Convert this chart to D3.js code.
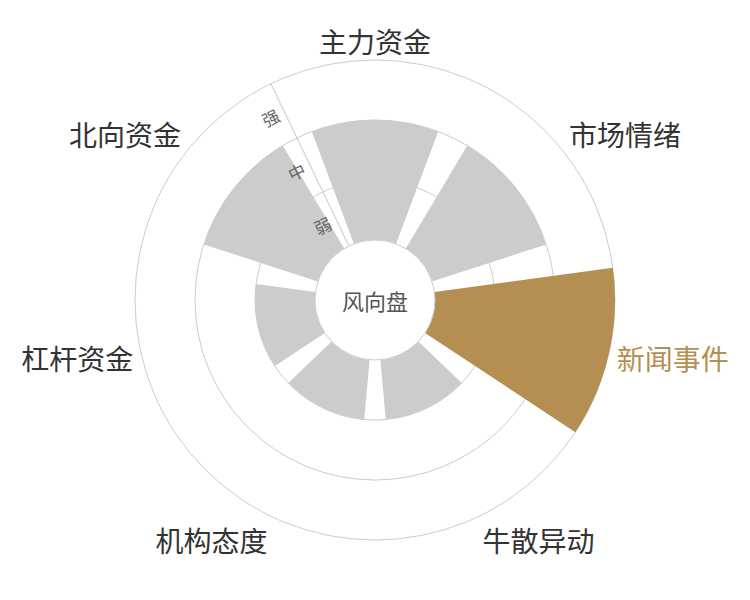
<!DOCTYPE html>
<html>
<head>
<meta charset="utf-8">
<script src="https://cdn.jsdelivr.net/npm/d3@7"></script>
<style>
  body { margin: 0; background: #fff; }
  text { font-family: "Noto Sans CJK SC", "Noto Sans", sans-serif; }
</style>
</head>
<body>
<div id="chart"></div>
<script>
// categories clockwise from the top
const categories = ["主力资金", "市场情绪", "新闻事件", "牛散异动", "机构态度", "杠杆资金", "北向资金"];
// strength level per category
const levels = ["弱", "中", "强"];
const values = ["中", "中", "强", "弱", "弱", "弱", "中"];
const highlight = "新闻事件";
const centerLabel = "风向盘";

const width = 750, height = 600;
const cx = 375, cy = 300;
const inner = 60, outer = 240;

const svg = d3.select("#chart").append("svg")
  .attr("width", width)
  .attr("height", height);

const g = svg.append("g").attr("transform", `translate(${cx},${cy})`);

const step = 2 * Math.PI / categories.length;
const start = -step / 2;
const startDeg = start * 180 / Math.PI;

const angle = d3.scaleBand()
  .domain(categories)
  .range([start, start + 2 * Math.PI])
  .paddingInner(0.2)
  .paddingOuter(0.1);

const radius = d3.scaleBand()
  .domain(levels)
  .range([inner, outer]);

// split rings
g.append("g")
  .selectAll("circle")
  .data(levels)
  .join("circle")
  .attr("r", d => radius(d) + radius.bandwidth())
  .attr("fill", "none")
  .attr("stroke", "#ccc")
  .attr("stroke-width", 1);

// radius axis line sits on the first category boundary
g.append("line")
  .attr("transform", `rotate(${startDeg})`)
  .attr("x1", 0).attr("x2", 0)
  .attr("y1", -inner).attr("y2", -outer)
  .attr("stroke", "#ccc");

const arc = d3.arc()
  .innerRadius(inner)
  .outerRadius(d => radius(d.v) + radius.bandwidth())
  .startAngle(d => angle(d.c))
  .endAngle(d => angle(d.c) + angle.bandwidth());

g.append("g")
  .selectAll("path")
  .data(categories.map((c, i) => ({c, v: values[i]})))
  .join("path")
  .attr("d", arc)
  .attr("fill", d => d.c === highlight ? "#b58f51" : "#cccccc");

// radius labels along the axis, on top of the bars
g.append("g")
  .attr("transform", `rotate(${startDeg})`)
  .selectAll("text")
  .data(levels)
  .join("text")
  .attr("x", -15)
  .attr("y", d => -(radius(d) + radius.bandwidth() / 2))
  .attr("text-anchor", "middle")
  .attr("dominant-baseline", "central")
  .attr("font-size", 17)
  .attr("fill", "#666")
  .text(d => d);

// inner hole
g.append("circle")
  .attr("r", inner)
  .attr("fill", "#fff")
  .attr("stroke", "#ccc");

g.append("text")
  .attr("text-anchor", "middle")
  .attr("dominant-baseline", "central")
  .attr("font-size", 22)
  .attr("fill", "#555")
  .text(centerLabel);

// category labels
const labelR = outer + 8;
const fs = 28;
g.append("g")
  .selectAll("text")
  .data(categories)
  .join("text")
  .each(function(c){
    const a = angle(c) + angle.bandwidth() / 2;
    const x = labelR * Math.sin(a), y = -labelR * Math.cos(a);
    const anchor = Math.abs(x) / labelR < 0.3 ? "middle" : (x > 0 ? "start" : "end");
    const shift = Math.abs(y) / labelR < 0.3 ? 0 : (y > 0 ? fs / 2 : -fs / 2);
    d3.select(this)
      .attr("x", x).attr("y", y + shift + 3)
      .attr("text-anchor", anchor)
      .attr("dominant-baseline", "central");
  })
  .attr("font-size", fs)
  .attr("fill", d => d === highlight ? "#b58f51" : "#333")
  .text(d => d);
</script>
</body>
</html>
